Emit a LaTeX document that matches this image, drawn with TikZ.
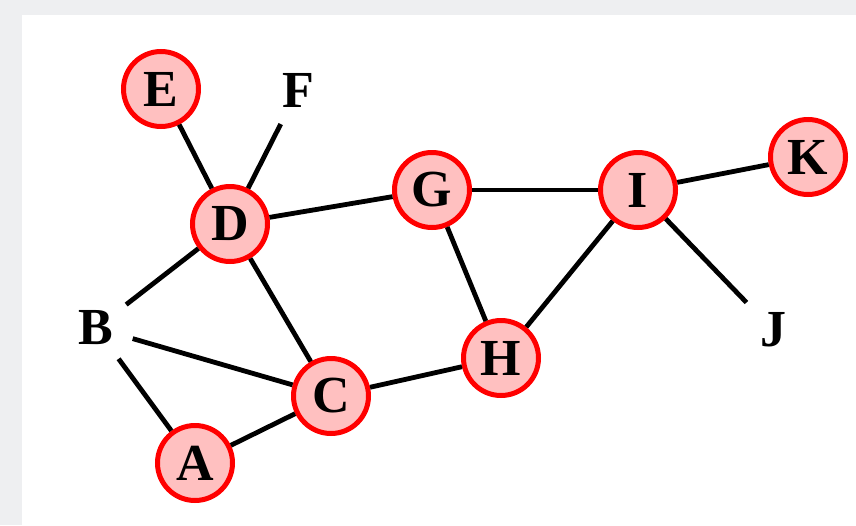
\documentclass[tikz,border=0pt]{standalone}
\usepackage{fontspec}
\setmainfont{Liberation Serif}
\begin{document}
\begin{tikzpicture}[x=1pt,y=-1pt,
  vert/.style={circle, draw=red, fill=pinkfill, line width=5pt, minimum size=75pt, inner sep=0pt, font=\fontsize{52}{52}\selectfont\bfseries},
  plain/.style={circle, minimum size=76pt, inner sep=0pt, font=\fontsize{52}{52}\selectfont\bfseries},
  edge/.style={line width=4.8pt, black}]
  \definecolor{pinkfill}{HTML}{FFC0C0}
  \definecolor{pagegray}{HTML}{EEEFF1}
  % page background and white panel
  \fill[pagegray] (0,0) rectangle (856,525);
  \fill[white] (22,15) rectangle (856,525);
  \useasboundingbox (0,0) rectangle (856,525);
  % vertices
  \node[vert]  (E) at (161,89)  {E};
  \node[plain] (F) at (298,90)  {F};
  \node[vert]  (D) at (230,224) {D};
  \node[vert]  (G) at (432,190) {G};
  \node[vert]  (I) at (638,190) {I};
  \node[vert]  (K) at (808,157) {K};
  \node[plain] (B) at (96,328)  {B};
  \node[plain] (J) at (773,330) {J};
  \node[vert]  (H) at (501,358) {H};
  \node[vert]  (C) at (331,396) {C};
  \node[vert]  (A) at (195,463) {A};
  % edges
  \foreach \u/\v in {A/B, A/C, B/C, B/D, C/D, C/H, D/E, D/F, D/G, G/H, G/I, H/I, I/J, I/K}
    \draw[edge] (\u) -- (\v);
\end{tikzpicture}
\end{document}
